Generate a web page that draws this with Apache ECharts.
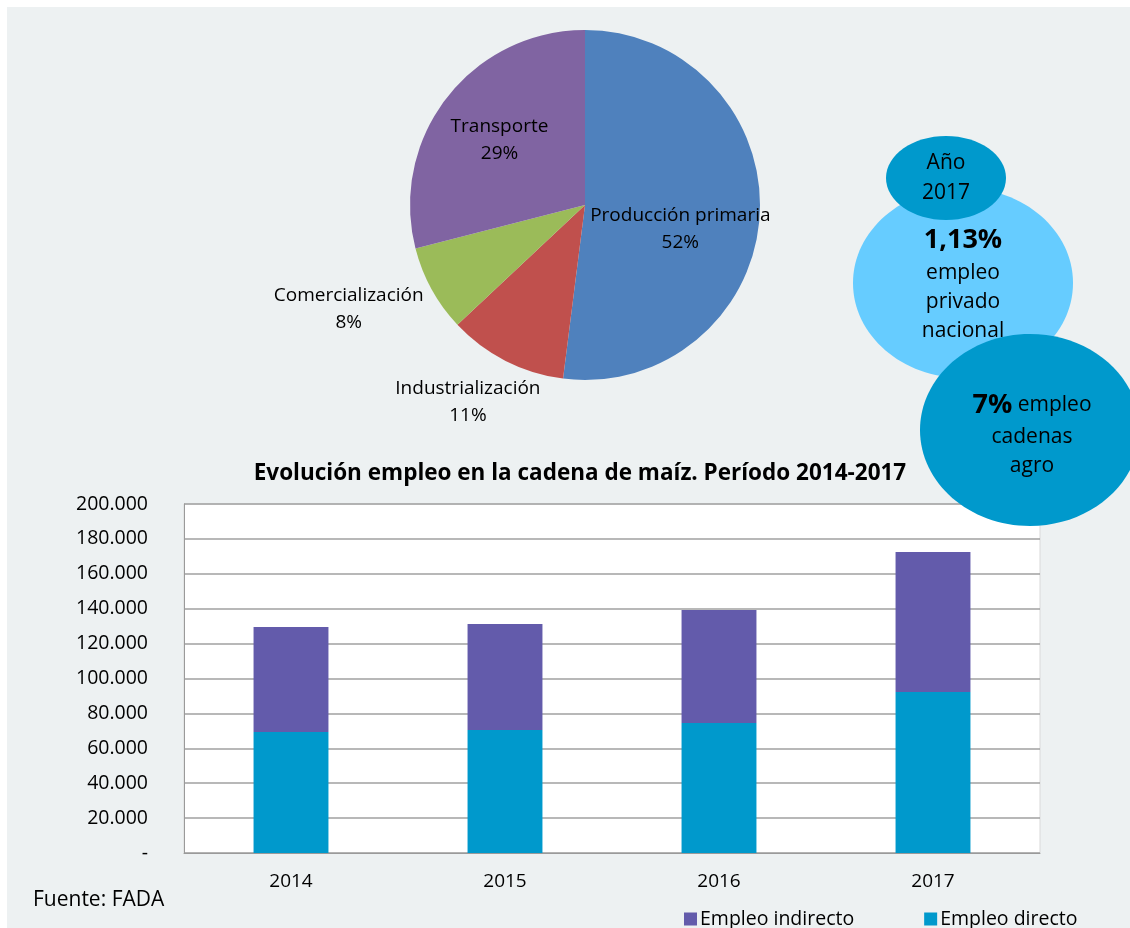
<!DOCTYPE html>
<html><head><meta charset="utf-8">
<script src="https://cdn.jsdelivr.net/npm/echarts@6/dist/echarts.min.js"></script>
<style>html,body{margin:0;padding:0;background:#fff}#c{width:1130px;height:928px}</style>
</head><body><div id="c"></div>
<script>
// ---- data ----
const pieNames = ['Producción primaria', 'Industrialización', 'Comercialización', 'Transporte'];
const pieValues = [52, 11, 8, 29];
const years = ['2014', '2015', '2016', '2017'];
const empleoDirecto = [69300, 70500, 74500, 92300];
const empleoIndirecto = [60200, 60700, 64800, 80200];
const barTitle = 'Evolución empleo en la cadena de maíz. Período 2014-2017';
const sourceText = 'Fuente: FADA';

// ---- styles ----
const FONT = '"Open Sans", "Noto Sans", sans-serif';
const pieColors = ['#4F81BD', '#C0504D', '#9BBB59', '#8064A2'];
const pieLabelOffsets = [[5, 18], [-76, 116], [-157, 60], [-14, -9]];

const chart = echarts.init(document.getElementById('c'), null, {renderer: 'canvas'});

const fmt = v => v === 0 ? '-' : String(v).replace(/\B(?=(\d{3})+(?!\d))/g, '.');

chart.setOption({
  animation: false,
  textStyle: {fontFamily: FONT},
  title: [
    {text: barTitle, left: 575, top: 457, textAlign: 'center',
     textStyle: {fontFamily: FONT, fontSize: 22.5, fontWeight: 'bold', color: '#000'}},
    {text: sourceText, left: 28, top: 885,
     textStyle: {fontFamily: FONT, fontSize: 21, fontWeight: 'normal', color: '#000'}}
  ],
  legend: {
    data: ['Empleo indirecto', 'Empleo directo'],
    left: 679, top: 904, icon: 'rect', itemWidth: 13, itemHeight: 13, itemGap: 70,
    textStyle: {fontFamily: FONT, fontSize: 19.5, color: '#000', padding: [0, 0, 0, -2]}
  },
  grid: {left: 184, right: 90, top: 504, bottom: 75, show: true,
    backgroundColor: '#fff', borderColor: '#d9d9d9', borderWidth: 1},
  xAxis: {type: 'category', data: years,
    axisLine: {lineStyle: {color: '#9a9a9a'}}, axisTick: {show: false},
    axisLabel: {fontFamily: FONT, fontSize: 19, color: '#000', margin: 19}},
  yAxis: {type: 'value', min: 0, max: 200000, interval: 20000,
    axisLine: {show: true, lineStyle: {color: '#9a9a9a'}}, axisTick: {show: false},
    splitLine: {lineStyle: {color: '#a0a0a0', width: 1.5}},
    axisLabel: {fontFamily: FONT, fontSize: 19.5, color: '#000', margin: 36, formatter: fmt}},
  series: [
    {name: 'Empleo directo', type: 'bar', stack: 'e', barWidth: '35%', data: empleoDirecto,
     itemStyle: {color: '#0099CC'}},
    {name: 'Empleo indirecto', type: 'bar', stack: 'e', barWidth: '35%', data: empleoIndirecto,
     itemStyle: {color: '#635BAB'}},
    {type: 'pie', center: [585, 205], radius: 175, startAngle: 90, clockwise: true,
     data: pieNames.map((n, i) => ({name: n, value: pieValues[i],
        itemStyle: {color: pieColors[i]},
        label: {offset: pieLabelOffsets[i]}})),
     label: {position: 'inside', formatter: '{b}\n{d}%', fontFamily: FONT, fontSize: 19,
       color: '#000', lineHeight: 27, align: 'center'},
     labelLine: {show: false}, emphasis: {disabled: true}}
  ],
  graphic: [
    {type: 'rect', z: -100, shape: {x: 7, y: 7, width: 1123, height: 921}, style: {fill: '#EDF1F2'}},
    {type: 'ellipse', z: 100, shape: {cx: 963, cy: 283, rx: 110, ry: 95}, style: {fill: '#66CCFF'}},
    {type: 'text', z: 101, style: {x: 963, y: 240, text: '1,13%', textAlign: 'center', textVerticalAlign: 'middle',
      font: 'bold 27px ' + FONT, fill: '#000'}},
    {type: 'text', z: 101, style: {x: 963, y: 302, text: 'empleo\nprivado\nnacional', textAlign: 'center', textVerticalAlign: 'middle',
      font: '21px ' + FONT, fill: '#000', lineHeight: 29}},
    {type: 'ellipse', z: 102, shape: {cx: 946, cy: 178, rx: 60, ry: 42}, style: {fill: '#0099CC'}},
    {type: 'text', z: 103, style: {x: 946, y: 178, text: 'Año\n2017', textAlign: 'center', textVerticalAlign: 'middle',
      font: '21px ' + FONT, fill: '#000', lineHeight: 30}},
    {type: 'ellipse', z: 104, shape: {cx: 1030, cy: 430, rx: 110, ry: 96}, style: {fill: '#0099CC'}},
    {type: 'text', z: 105, style: {x: 1032, y: 405, text: '{b|7%} empleo', textAlign: 'center', textVerticalAlign: 'middle',
      font: '21px ' + FONT, fill: '#000', rich: {b: {fontWeight: 'bold', fontSize: 27, fontFamily: FONT}}}},
    {type: 'text', z: 105, style: {x: 1032, y: 452, text: 'cadenas\nagro', textAlign: 'center', textVerticalAlign: 'middle',
      font: '21px ' + FONT, fill: '#000', lineHeight: 29}}
  ]
});
</script></body></html>
